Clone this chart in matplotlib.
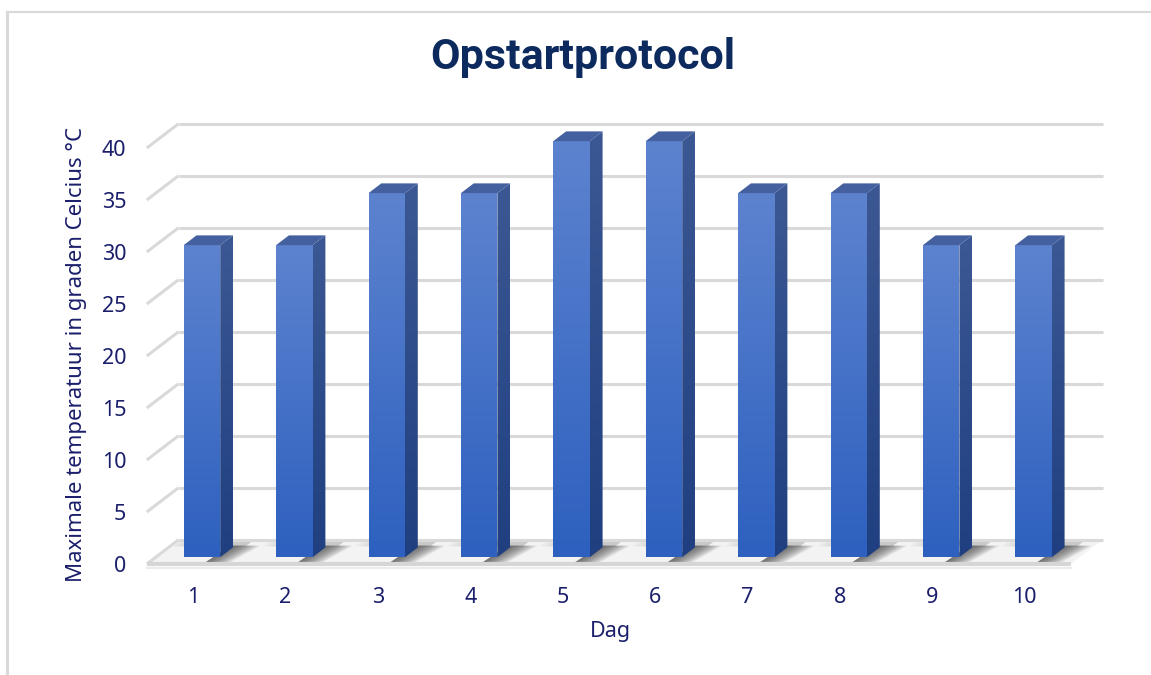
import numpy as np
import matplotlib
matplotlib.use('Agg')
import matplotlib.pyplot as plt
from matplotlib.patches import Polygon
from matplotlib.colors import LinearSegmentedColormap
from matplotlib.lines import Line2D

# data
days = ['1', '2', '3', '4', '5', '6', '7', '8', '9', '10']
temps = [30, 30, 35, 35, 40, 40, 35, 35, 30, 30]
yticks = [0, 5, 10, 15, 20, 25, 30, 35, 40]

title = 'Opstartprotocol'
xlabel = 'Dag'
ylabel = 'Maximale temperatuur in graden Celcius °C'

navy = '#1b1f6b'
grid_c = '#d9d9d9'

# pseudo 3d: depth shift of the whole wall in data units
DX, DY = 0.346, 2.35
BW = 0.395           # bar width
D0, D1 = 0.28, 0.68  # bar front / back depth


def at(x, y, d):
    return (x + d * DX, y + d * DY)


def grad_face(ax, verts, c_top, c_bot, z):
    poly = Polygon(verts, closed=True, facecolor='none', edgecolor='none', zorder=z)
    ax.add_patch(poly)
    xs = [v[0] for v in verts]
    ys = [v[1] for v in verts]
    cmap = LinearSegmentedColormap.from_list('g', [c_bot, c_top])
    g = np.linspace(0, 1, 256).reshape(-1, 1)
    im = ax.imshow(g, cmap=cmap, extent=(min(xs), max(xs), min(ys), max(ys)),
                   origin='lower', aspect='auto', interpolation='bicubic', zorder=z)
    im.set_clip_path(poly)


fig = plt.figure(figsize=(11.51, 6.75), dpi=100)
ax = fig.add_axes([0, 0, 1, 1])
ax.axis('off')

n = len(days)
xs = np.arange(1, n + 1)
left, right = 0.5, n + 0.5

# floor
floor = [at(left, 0, 0), at(right, 0, 0), at(right, 0, 1), at(left, 0, 1)]
floor_p = Polygon(floor, closed=True, facecolor='#f3f3f3', edgecolor='none', zorder=0.5)
ax.add_patch(floor_p)
# soft bar shadows on the floor
for x in xs:
    x0 = x + BW / 2 - 0.03
    for k in range(10):
        w = 0.03 + k * 0.03
        sh = [at(x0 - 0.06, 0, 0.0), at(x0 + w - 0.1, 0, 0.0),
              at(x0 + w, 0, 0.75), at(x0 - 0.02, 0, 0.75)]
        p = Polygon(sh, closed=True, facecolor='#383838', alpha=0.11,
                    edgecolor='none', zorder=0.6)
        ax.add_patch(p)
        p.set_clip_path(floor_p)
    for k in range(6):
        w = 0.05 + k * 0.05
        sh = [at(x - BW / 2 - w, 0, 0.72), at(x + BW / 2 + 0.12, 0, 0.72),
              at(x + BW / 2 + 0.12, 0, 1.0), at(x - BW / 2 - w, 0, 1.0)]
        p = Polygon(sh, closed=True, facecolor='#707070', alpha=0.06,
                    edgecolor='none', zorder=0.6)
        ax.add_patch(p)
        p.set_clip_path(floor_p)

# gridlines: back wall + left wall diagonals
for v in yticks:
    bx0, by0 = at(left, v, 1)
    bx1, by1 = at(right, v, 1)
    ax.plot([bx0, bx1], [by0, by1], color=grid_c, lw=2.2, zorder=1, solid_capstyle='butt')
    fx, fy = at(left, v, 0)
    ax.plot([fx, bx0], [fy, by0], color=grid_c, lw=2.2, zorder=1, solid_capstyle='butt')
    ax.text(left - 0.22, v - 0.25, str(v), ha='right', va='center', fontsize=15.5,
            color=navy, family='Noto Sans')

# floor front edge
ax.plot([left, right], [0, 0], color='#d6d6d6', lw=3, zorder=1.5, solid_capstyle='butt')
ax.plot([left, right], [-0.35, -0.35], color='#ececec', lw=1.5, zorder=1.4)

# bars
for i, (x, v) in enumerate(zip(xs, temps)):
    z = 3 + i * 0.01
    xl, xr = x - BW / 2, x + BW / 2
    front = [at(xl, 0, D0), at(xr, 0, D0), at(xr, v, D0), at(xl, v, D0)]
    side = [at(xr, 0, D0), at(xr, 0, D1), at(xr, v, D1), at(xr, v, D0)]
    top = [at(xl, v, D0), at(xr, v, D0), at(xr, v, D1), at(xl, v, D1)]
    grad_face(ax, front, '#5d83cf', '#2d60bf', z)
    grad_face(ax, side, '#3c5894', '#1f3f80', z)
    ax.add_patch(Polygon(top, closed=True, facecolor='#44609f', edgecolor='none', zorder=z + 0.001))
    ax.text(x, -3.2, days[i], ha='center', va='center', fontsize=15.5,
            color=navy, family='Noto Sans')

ax.set_xlim(1 - 193 / 92.4, 1 + (1151 - 193) / 92.4)
ax.set_ylim(-111 / 10.4, (675 - 111) / 10.4)

fig.text(610 / 1151, 1 - 632 / 675, xlabel, ha='center', va='center',
         fontsize=15.5, color=navy, family='Noto Sans')
fig.text(77 / 1151, 1 - 355 / 675, ylabel, ha='center', va='center', rotation=90,
         fontsize=16, color=navy, family='Noto Sans')
fig.text(583 / 1151, 1 - 57 / 675, title, ha='center', va='center',
         fontsize=31, fontweight='bold', color='#0c2a5e', family='Roboto')

# chart frame
fig.add_artist(Line2D([6.5 / 1151, 6.5 / 1151], [0, 1 - 11.5 / 675],
                      color='#d9d9d9', lw=2.2, transform=fig.transFigure))
fig.add_artist(Line2D([6.5 / 1151, 1], [1 - 11.5 / 675, 1 - 11.5 / 675],
                      color='#d9d9d9', lw=1.5, transform=fig.transFigure))

fig.savefig('out.png', dpi=100)
